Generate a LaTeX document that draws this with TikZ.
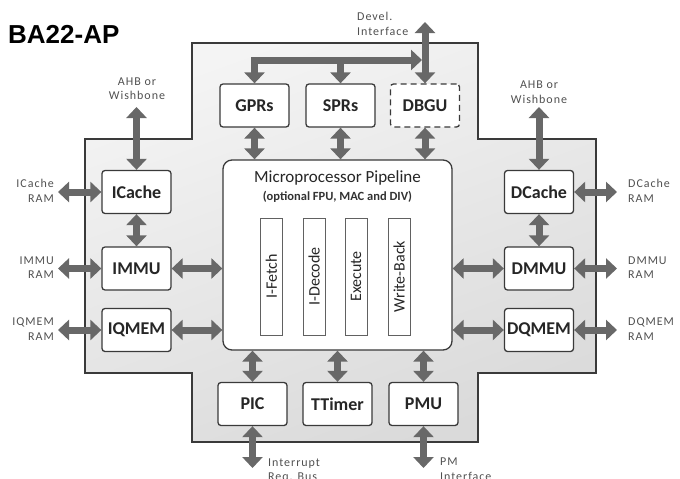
\documentclass[tikz,border=0pt]{standalone}
\usepackage{fontspec}
\setmainfont{Carlito}
\newfontfamily\titlefont{Liberation Sans}
\newfontfamily\lblfont[LetterSpace=8]{Carlito}
\usetikzlibrary{arrows.meta}
\definecolor{arrgray}{HTML}{686868}
\definecolor{lblgray}{HTML}{505050}
\definecolor{edgegray}{HTML}{3A3A3A}
\definecolor{bgtop}{HTML}{F4F4F4}
\definecolor{bgbot}{HTML}{DADADA}
\tikzset{
  blk/.style={draw=edgegray, line width=1.3pt, fill=white, rounded corners=3pt,
    minimum width=69pt, minimum height=43pt, inner sep=0pt,
    font=\fontsize{18}{20}\selectfont\bfseries, text=black!85},
  stagebar/.style={draw=edgegray!80, line width=0.9pt, fill=white,
    minimum width=22pt, minimum height=117pt, inner sep=0pt},
  stagetxt/.style={rotate=90, font=\fontsize{16}{18}\selectfont, text=black!85},
  arr/.style={draw=arrgray, line width=7pt, line join=miter,
    {Triangle[width=20pt,length=11pt]}-{Triangle[width=20pt,length=11pt]}},
  arrone/.style={draw=arrgray, line width=7pt, line join=miter,
    -{Triangle[width=20pt,length=11pt]}},
  lbl/.style={font=\lblfont\fontsize{12}{14.5}\selectfont, text=lblgray, inner sep=0pt},
}
\begin{document}
\begin{tikzpicture}[x=1pt,y=-1pt]
\useasboundingbox (0,0) rectangle (680,479);
% title
\node[anchor=west, font=\titlefont\fontsize{26}{28}\selectfont\bfseries, inner sep=0pt] (title) at (8,34) {BA22-AP};
% cross-shaped body
\path[top color=bgtop, bottom color=bgbot, shading angle=20] (192,43) -- (478,43) -- (478,139) -- (596,139) -- (596,373) -- (478,373) -- (478,442) -- (192,442) -- (192,373) -- (85,373) -- (85,139) -- (192,139) -- cycle;
\draw[edgegray, line width=1.8pt] (192,43) -- (478,43) -- (478,139) -- (596,139) -- (596,373) -- (478,373) -- (478,442) -- (192,442) -- (192,373) -- (85,373) -- (85,139) -- (192,139) -- cycle;
% pipeline
\node[draw=edgegray, line width=1.3pt, fill=white, rounded corners=9pt, minimum width=229pt, minimum height=190pt, inner sep=0pt] (pipe) at (337.5,255) {};
\node[font=\fontsize{17}{19}\selectfont, text=black!85] (ptitle) at (337.5,178) {Microprocessor Pipeline};
\node[font=\fontsize{12.5}{14}\selectfont\bfseries, text=black!80] (psub) at (337.5,197) {(optional FPU, MAC and DIV)};
\node[stagebar] (s1) at (271.5,276.5) {};
\node[stagebar] (s2) at (314,276.5) {};
\node[stagebar] (s3) at (356,276.5) {};
\node[stagebar] (s4) at (399,276.5) {};
\node[stagetxt] (t1) at (s1) {I-Fetch};
\node[stagetxt] (t2) at (s2) {I-Decode};
\node[stagetxt] (t3) at (s3) {Execute};
\node[stagetxt] (t4) at (s4) {Write-Back};
% blocks
\node[blk] (gprs) at (254.5,105.5) {GPRs};
\node[blk] (sprs) at (340.5,105.5) {SPRs};
\node[blk, dash pattern=on 6pt off 4pt] (dbgu) at (425,105.5) {DBGU};
\node[blk] (icache) at (136.5,192) {ICache};
\node[blk] (immu) at (136.5,268.5) {IMMU};
\node[blk] (iqmem) at (136.5,330) {IQMEM};
\node[blk] (dcache) at (539,192) {DCache};
\node[blk] (dmmu) at (539,268.5) {DMMU};
\node[blk] (dqmem) at (539,330) {DQMEM};
\node[blk] (pic) at (252.5,404) {PIC};
\node[blk] (ttimer) at (337.5,404) {TTimer};
\node[blk] (pmu) at (423.5,404) {PMU};
% free ends
\coordinate (busend) at (422,60);
\coordinate (busspr) at (340.5,60);
\coordinate (devel) at (425,22);
\coordinate (ahbl) at (136.5,107);
\coordinate (ahbr) at (539,107);
\coordinate (icr) at (58,192);
\coordinate (imr) at (58,268.5);
\coordinate (iqr) at (58,330);
\coordinate (dcr) at (617,192);
\coordinate (dmr) at (617,268.5);
\coordinate (dqr) at (617,330);
\coordinate (irq) at (252.5,468);
\coordinate (pmi) at (423.5,468);
% arrows
\draw[arr] (busend) -| (gprs.north);
\draw[arrone] (busspr) -- (sprs.north);
\draw[arr] (devel) -- (dbgu.north);
\draw[arr] (gprs.south) -- (gprs.south |- pipe.north);
\draw[arr] (sprs.south) -- (sprs.south |- pipe.north);
\draw[arr] (dbgu.south) -- (dbgu.south |- pipe.north);
\draw[arr] (ahbl) -- (icache.north);
\draw[arr] (ahbr) -- (dcache.north);
\draw[arr] (icache.south) -- (immu.north);
\draw[arr] (dcache.south) -- (dmmu.north);
\draw[arr] (icr) -- (icache.west);
\draw[arr] (imr) -- (immu.west);
\draw[arr] (iqr) -- (iqmem.west);
\draw[arr] (dcr) -- (dcache.east);
\draw[arr] (dmr) -- (dmmu.east);
\draw[arr] (dqr) -- (dqmem.east);
\draw[arr] (immu.east) -- (immu.east -| pipe.west);
\draw[arr] (iqmem.east) -- (iqmem.east -| pipe.west);
\draw[arr] (dmmu.west) -- (dmmu.west -| pipe.east);
\draw[arr] (dqmem.west) -- (dqmem.west -| pipe.east);
\draw[arr] (pic.north) -- (pic.north |- pipe.south);
\draw[arr] (ttimer.north) -- (ttimer.north |- pipe.south);
\draw[arr] (pmu.north) -- (pmu.north |- pipe.south);
\draw[arr] (pic.south) -- (irq);
\draw[arr] (pmu.south) -- (pmi);
% labels
\node[lbl, align=left, anchor=west] (ldevel) at (357,24) {Devel.\\Interface};
\node[lbl, align=center] (lahbl) at (137,88.5) {AHB or\\Wishbone};
\node[lbl, align=center] (lahbr) at (539,92) {AHB or\\Wishbone};
\node[lbl, align=right, anchor=east] (licr) at (54,191) {ICache\\RAM};
\node[lbl, align=right, anchor=east] (limr) at (54,267.5) {IMMU\\RAM};
\node[lbl, align=right, anchor=east] (liqr) at (54,329) {IQMEM\\RAM};
\node[lbl, align=left, anchor=west] (ldcr) at (628,191) {DCache\\RAM};
\node[lbl, align=left, anchor=west] (ldmr) at (628,267.5) {DMMU\\RAM};
\node[lbl, align=left, anchor=west] (ldqr) at (628,329) {DQMEM\\RAM};
\node[lbl, align=left, anchor=west] (lirq) at (268,470.5) {Interrupt\\Req. Bus};
\node[lbl, align=left, anchor=west] (lpmi) at (440,469) {PM\\Interface};
\end{tikzpicture}
\end{document}
